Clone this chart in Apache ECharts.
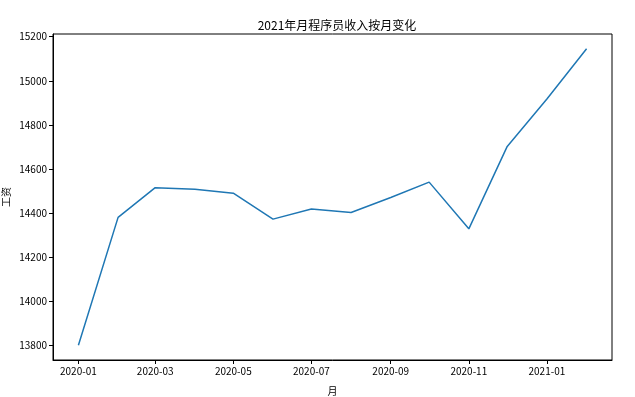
<!DOCTYPE html>
<html><head><meta charset="utf-8">
<script src="https://cdn.jsdelivr.net/npm/echarts@6/dist/echarts.min.js"></script>
<style>html,body{margin:0;padding:0;background:#fff}#c{width:635px;height:397px}</style>
</head><body><div id="c"></div>
<script>
var months = ['2020-01','2020-02','2020-03','2020-04','2020-05','2020-06','2020-07','2020-08','2020-09','2020-10','2020-11','2020-12','2021-01','2021-02'];
var salary = [13800,14380,14515,14508,14490,14372,14418,14402,14470,14540,14328,14702,14917,15145];
var xTicks = ['2020-01','2020-03','2020-05','2020-07','2020-09','2020-11','2021-01'];
var yTicks = [13800,14000,14200,14400,14600,14800,15000,15200];

function ts(s){var p=s.split('-');return Date.UTC(+p[0],+p[1]-1,1);}
var xs = months.map(ts);
var span = xs[xs.length-1]-xs[0];
var ymin = Math.min.apply(null,salary), ymax = Math.max.apply(null,salary);
var yr = ymax-ymin;
var font = '"Noto Sans CJK SC", "DejaVu Sans", sans-serif';
var chart = echarts.init(document.getElementById('c'), null, {renderer:'canvas'});
chart.setOption({
  animation:false,
  title:{text:'2021年月程序员收入按月变化',left:332,textAlign:'center',top:14,textStyle:{fontFamily:font,fontSize:12,fontWeight:'normal',color:'#000'}},
  grid:{left:53,right:23,top:34,bottom:37,containLabel:false,outerBoundsMode:'none',show:true,borderColor:'#000',borderWidth:1,backgroundColor:'transparent'},
  xAxis:{type:'value',scale:true,min:xs[0]-span*0.05,max:xs[xs.length-1]+span*0.05,
    name:'月',nameLocation:'middle',nameGap:26,nameMoveOverlap:false,nameTextStyle:{fontFamily:font,fontSize:10,color:'#000'},
    axisLine:{show:true,lineStyle:{color:'#000',width:1}},
    axisTick:{show:true,inside:false,length:4,customValues:xTicks.map(ts),lineStyle:{color:'#000'}},
    axisLabel:{customValues:xTicks.map(ts),fontFamily:font,fontSize:10,color:'#000',margin:6,
      formatter:function(v){var d=new Date(v);var m=d.getUTCMonth()+1;return d.getUTCFullYear()+'-'+(m<10?'0':'')+m;}},
    splitLine:{show:false}},
  yAxis:{type:'value',scale:true,min:ymin-yr*0.05,max:ymax+yr*0.05,
    name:'工资',nameLocation:'middle',nameGap:42,nameMoveOverlap:false,nameRotate:90,nameTextStyle:{fontFamily:font,fontSize:10,color:'#000'},
    axisLine:{show:true,lineStyle:{color:'#000',width:1}},
    axisTick:{show:true,inside:false,length:4,customValues:yTicks,lineStyle:{color:'#000'}},
    axisLabel:{customValues:yTicks,fontFamily:font,fontSize:10,color:'#000',margin:6,formatter:function(v){return String(Math.round(v));}},
    splitLine:{show:false}},
  series:[{type:'line',data:xs.map(function(x,i){return [x,salary[i]];}),showSymbol:false,symbol:'none',
    lineStyle:{color:'#1f77b4',width:1.5},itemStyle:{color:'#1f77b4'}}]
});
</script></body></html>
